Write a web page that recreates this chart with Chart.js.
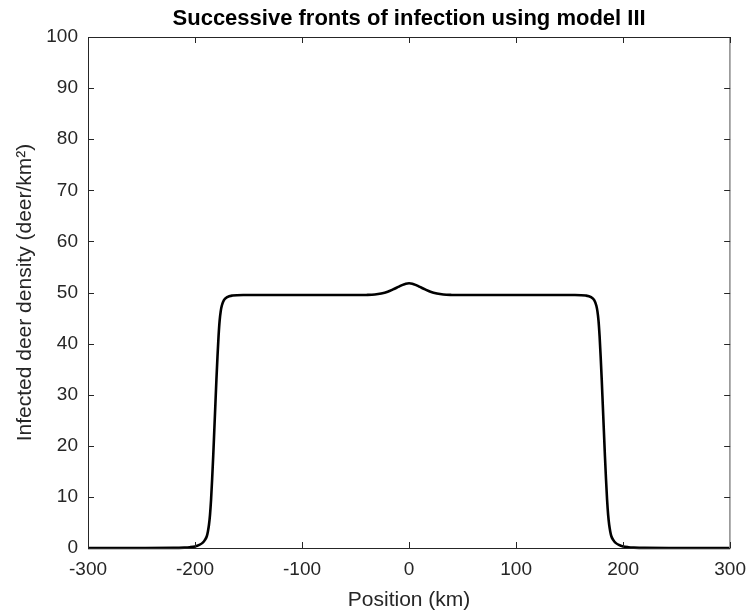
<!DOCTYPE html>
<html>
<head>
<meta charset="utf-8">
<script src="https://cdn.jsdelivr.net/npm/chart.js@4/dist/chart.umd.min.js"></script>
<style>
html,body{margin:0;padding:0;background:#fff;}
canvas{display:block;}
</style>
</head>
<body>
<canvas id="c" width="756" height="613"></canvas>
<script>
// ---- data ----
const chartTitle = 'Successive fronts of infection using model III';
const xAxisLabel = 'Position (km)';
const yAxisLabel = 'Infected deer density (deer/km\u00B2)';
const xTicks = [-300, -200, -100, 0, 100, 200, 300];
const yTicks = [0, 10, 20, 30, 40, 50, 60, 70, 80, 90, 100];

const positions = [
  -300, -250, -220, -210, -205, -200, -196, -193, -191, -189, -188, -187, -186, -185,
  -184, -183, -182, -181, -180, -179, -178, -177, -176, -175, -173, -170, -165, -155,
  -100, -50, -40, -32, -26, -20, -15, -10, -6, -3, 0,
  3, 6, 10, 15, 20, 26, 32, 40, 50, 100,
  155, 165, 170, 173, 175, 176, 177, 178, 179, 180, 181, 182, 183, 184,
  185, 186, 187, 188, 189, 191, 193, 196, 200, 205, 210, 220, 250, 300
];
const density = [
  0, 0, 0.02, 0.08, 0.15, 0.3, 0.6, 1.0, 1.5, 2.3, 3.2, 4.5, 6.5, 9.5,
  13.5, 18, 23, 28, 33, 37.5, 41.5, 44.5, 46.3, 47.4, 48.5, 49.1, 49.4, 49.5,
  49.5, 49.5, 49.52, 49.6, 49.8, 50.15, 50.6, 51.1, 51.5, 51.72, 51.8,
  51.72, 51.5, 51.1, 50.6, 50.15, 49.8, 49.6, 49.52, 49.5, 49.5,
  49.5, 49.4, 49.1, 48.5, 47.4, 46.3, 44.5, 41.5, 37.5, 33, 28, 23, 18, 13.5,
  9.5, 6.5, 4.5, 3.2, 2.3, 1.5, 1.0, 0.6, 0.3, 0.15, 0.08, 0.02, 0, 0
];

const axisColor = '#262626';
const fontFamily = '"Liberation Sans", Arial, Helvetica, sans-serif';

const points = positions.map((p, i) => ({x: p, y: density[i]}));

const framePlugin = {
  id: 'frame',
  afterDraw(chart) {
    const {ctx, chartArea: {left, right, top, bottom}, scales: {x, y}} = chart;
    const tl = 6;
    ctx.save();
    ctx.lineWidth = 1;
    ctx.strokeStyle = axisColor;
    // box
    ctx.beginPath();
    ctx.moveTo(left + 0.5, bottom + 0.5);
    ctx.lineTo(left + 0.5, top + 0.5);
    ctx.lineTo(right - 0.5, top + 0.5);
    ctx.moveTo(left + 0.5, bottom + 0.5);
    ctx.lineTo(right - 0.5, bottom + 0.5);
    ctx.stroke();
    ctx.strokeStyle = '#8a8a8a';
    ctx.lineWidth = 1.5;
    ctx.beginPath();
    ctx.moveTo(right - 0.25, top);
    ctx.lineTo(right - 0.25, bottom + 1);
    ctx.stroke();
    // inward ticks
    ctx.strokeStyle = axisColor;
    ctx.lineWidth = 1;
    ctx.beginPath();
    x.ticks.forEach(t => {
      const px = Math.round(x.getPixelForValue(t.value)) + 0.5;
      ctx.moveTo(px, bottom); ctx.lineTo(px, bottom - tl);
      ctx.moveTo(px, top); ctx.lineTo(px, top + tl);
    });
    y.ticks.forEach(t => {
      const py = Math.round(y.getPixelForValue(t.value)) + 0.5;
      ctx.moveTo(left, py); ctx.lineTo(left + tl, py);
      ctx.moveTo(right, py); ctx.lineTo(right - tl, py);
    });
    ctx.stroke();
    // title
    ctx.fillStyle = '#000';
    ctx.font = 'bold 22px ' + fontFamily;
    ctx.textAlign = 'center';
    ctx.textBaseline = 'middle';
    ctx.fillText(chartTitle, (left + right) / 2, 19);
    ctx.restore();
  }
};

new Chart(document.getElementById('c'), {
  type: 'line',
  data: {
    datasets: [{
      data: points,
      borderColor: '#000',
      borderWidth: 2.6,
      pointRadius: 0,
      fill: false,
      cubicInterpolationMode: 'monotone',
      clip: 4
    }]
  },
  options: {
    responsive: false,
    animation: false,
    devicePixelRatio: 1,
    layout: {padding: {top: 37, right: 20, left: 0, bottom: 0}},
    plugins: {legend: {display: false}, title: {display: false}, tooltip: {enabled: false}},
    scales: {
      x: {
        type: 'linear',
        min: -300, max: 300,
        afterBuildTicks(s) { s.ticks = xTicks.map(v => ({value: v})); },
        afterFit(s) { s.height = 65; },
        grid: {display: false, drawTicks: false},
        border: {display: false},
        ticks: {color: axisColor, font: {size: 19, family: fontFamily}, padding: 10, maxRotation: 0},
        title: {display: true, text: xAxisLabel, color: axisColor, font: {size: 21, family: fontFamily}, padding: {top: 0, bottom: 0}}
      },
      y: {
        type: 'linear',
        min: 0, max: 100,
        afterBuildTicks(s) { s.ticks = yTicks.map(v => ({value: v})); },
        afterFit(s) { s.width = 88; },
        grid: {display: false, drawTicks: false},
        border: {display: false},
        ticks: {color: axisColor, font: {size: 19, family: fontFamily}, padding: 10},
        title: {display: true, text: yAxisLabel, color: axisColor, font: {size: 21, family: fontFamily}, padding: {top: 13, bottom: 0}}
      }
    }
  },
  plugins: [framePlugin]
});
</script>
</body>
</html>
